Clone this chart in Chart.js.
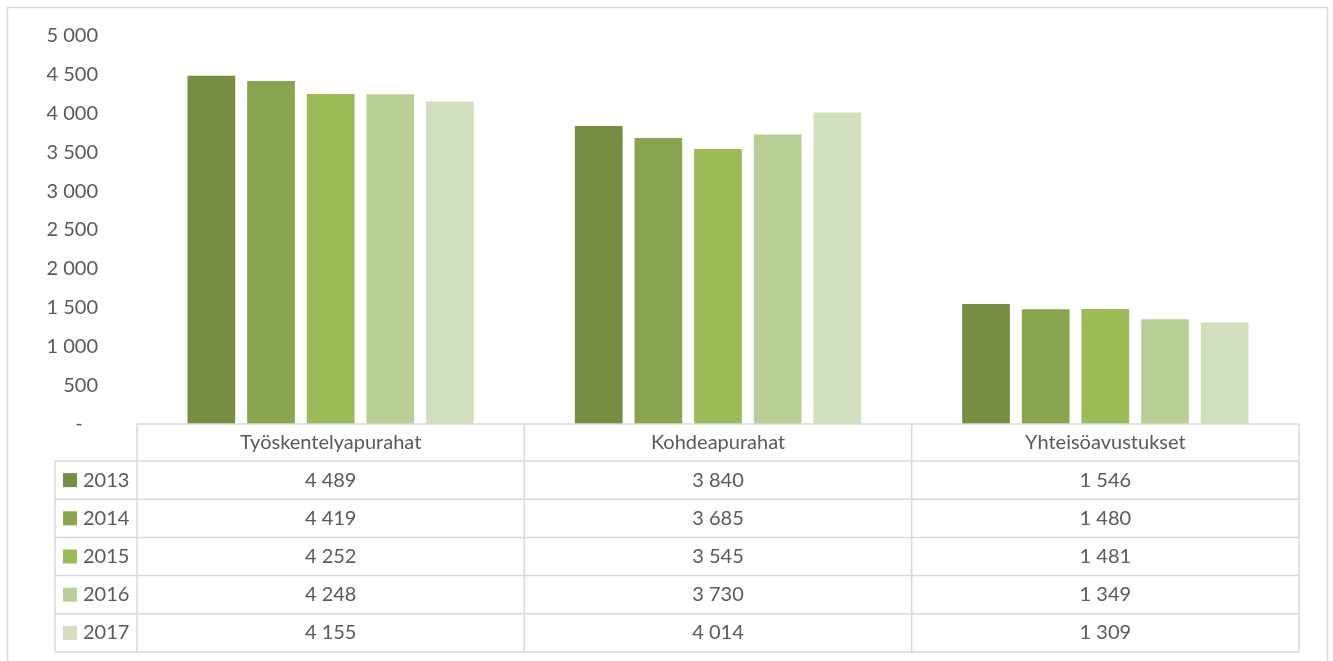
<!DOCTYPE html>
<html lang="fi">
<head>
  <meta charset="UTF-8" />
  <title>Apurahat ja avustukset</title>
  <style>
    html, body {
      margin: 0;
      padding: 0;
      background: #fff;
    }
    canvas {
      display: block;
    }
  </style>
</head>
<body>
  <canvas id="chart" width="1333" height="661"></canvas>

  <script src="https://cdn.jsdelivr.net/npm/chart.js"></script>
  <script>
    const categories = ['Työskentelyapurahat', 'Kohdeapurahat', 'Yhteisöavustukset'];
    const years = ['2013', '2014', '2015', '2016', '2017'];
    const values2013 = [4489, 3840, 1546];
    const values2014 = [4419, 3685, 1480];
    const values2015 = [4252, 3545, 1481];
    const values2016 = [4248, 3730, 1349];
    const values2017 = [4155, 4014, 1309];
    const yearColors = ['#768d42', '#8aa550', '#9bbb59', '#bacf96', '#d2dfbf'];

    const allValues = [values2013, values2014, values2015, values2016, values2017];
    const FONT = '20px Lato, "Open Sans", sans-serif';
    const TEXT = '#595959';
    const LINE = '#d9d9d9';

    // 4489 -> "4 489", 0 -> "-"
    function fmt(n) {
      if (n === 0) return '-   ';
      if (n < 1000) return String(n);
      return Math.floor(n / 1000) + ' ' + String(n % 1000).padStart(3, '0');
    }

    // frame around the chart + data table under the plot
    const tablePlugin = {
      id: 'dataTable',
      beforeDraw(chart) {
        const ctx = chart.ctx;
        ctx.save();
        ctx.fillStyle = '#fff';
        ctx.fillRect(0, 0, chart.width, chart.height);
        ctx.strokeStyle = LINE;
        ctx.lineWidth = 1.5;
        ctx.strokeRect(7.5, 7.5, 1320, 700);
        ctx.restore();
      },
      afterDraw(chart) {
        const ctx = chart.ctx;
        const x = chart.scales.x;
        const area = chart.chartArea;
        const top = area.bottom;
        const headerH = 37;
        const rowH = 38.2;
        const legendLeft = 55;
        const left = area.left;
        const right = area.right;
        const colW = (right - left) / categories.length;
        const rowsTop = top + headerH;
        const bottom = rowsTop + rowH * years.length;

        ctx.save();
        ctx.strokeStyle = LINE;
        ctx.lineWidth = 1.5;
        ctx.beginPath();
        ctx.moveTo(left, top); ctx.lineTo(right, top);
        for (let r = 0; r <= years.length; r++) {
          const yy = rowsTop + r * rowH;
          ctx.moveTo(legendLeft, yy); ctx.lineTo(right, yy);
        }
        ctx.moveTo(legendLeft, rowsTop); ctx.lineTo(legendLeft, bottom);
        for (let c = 0; c <= categories.length; c++) {
          const xx = left + c * colW;
          ctx.moveTo(xx, top); ctx.lineTo(xx, bottom);
        }
        ctx.stroke();

        ctx.font = FONT;
        ctx.fillStyle = TEXT;
        ctx.textBaseline = 'middle';
        ctx.textAlign = 'center';
        categories.forEach((cat, i) => {
          ctx.fillText(cat, x.getPixelForValue(i), top + headerH / 2);
        });
        years.forEach((yr, r) => {
          const cy = rowsTop + r * rowH + rowH / 2;
          ctx.fillStyle = yearColors[r];
          ctx.fillRect(63, cy - 7, 14, 14);
          ctx.fillStyle = TEXT;
          ctx.textAlign = 'left';
          ctx.fillText(yr, 83, cy);
          ctx.textAlign = 'center';
          allValues[r].forEach((v, i) => {
            ctx.fillText(fmt(v), x.getPixelForValue(i), cy);
          });
        });
        ctx.restore();
      }
    };

    new Chart(document.getElementById('chart'), {
      type: 'bar',
      data: {
        labels: categories,
        datasets: years.map((yr, i) => ({
          label: yr,
          data: allValues[i],
          backgroundColor: yearColors[i],
          categoryPercentage: 0.77,
          barPercentage: 0.8
        }))
      },
      options: {
        responsive: false,
        animation: false,
        layout: {
          padding: { left: 0, top: 36, right: 34, bottom: 237 }
        },
        plugins: {
          legend: { display: false },
          tooltip: { enabled: false }
        },
        scales: {
          x: {
            display: false
          },
          y: {
            min: 0,
            max: 5000,
            afterFit(scale) {
              scale.width = 137;
              scale.paddingTop = 0;
              scale.paddingBottom = 0;
            },
            grid: { display: false, drawTicks: false },
            border: { display: false },
            ticks: {
              stepSize: 500,
              padding: 39,
              color: TEXT,
              font: { family: 'Lato, "Open Sans", sans-serif', size: 20 },
              callback: v => fmt(v)
            }
          }
        }
      },
      plugins: [tablePlugin]
    });
  </script>
</body>
</html>
